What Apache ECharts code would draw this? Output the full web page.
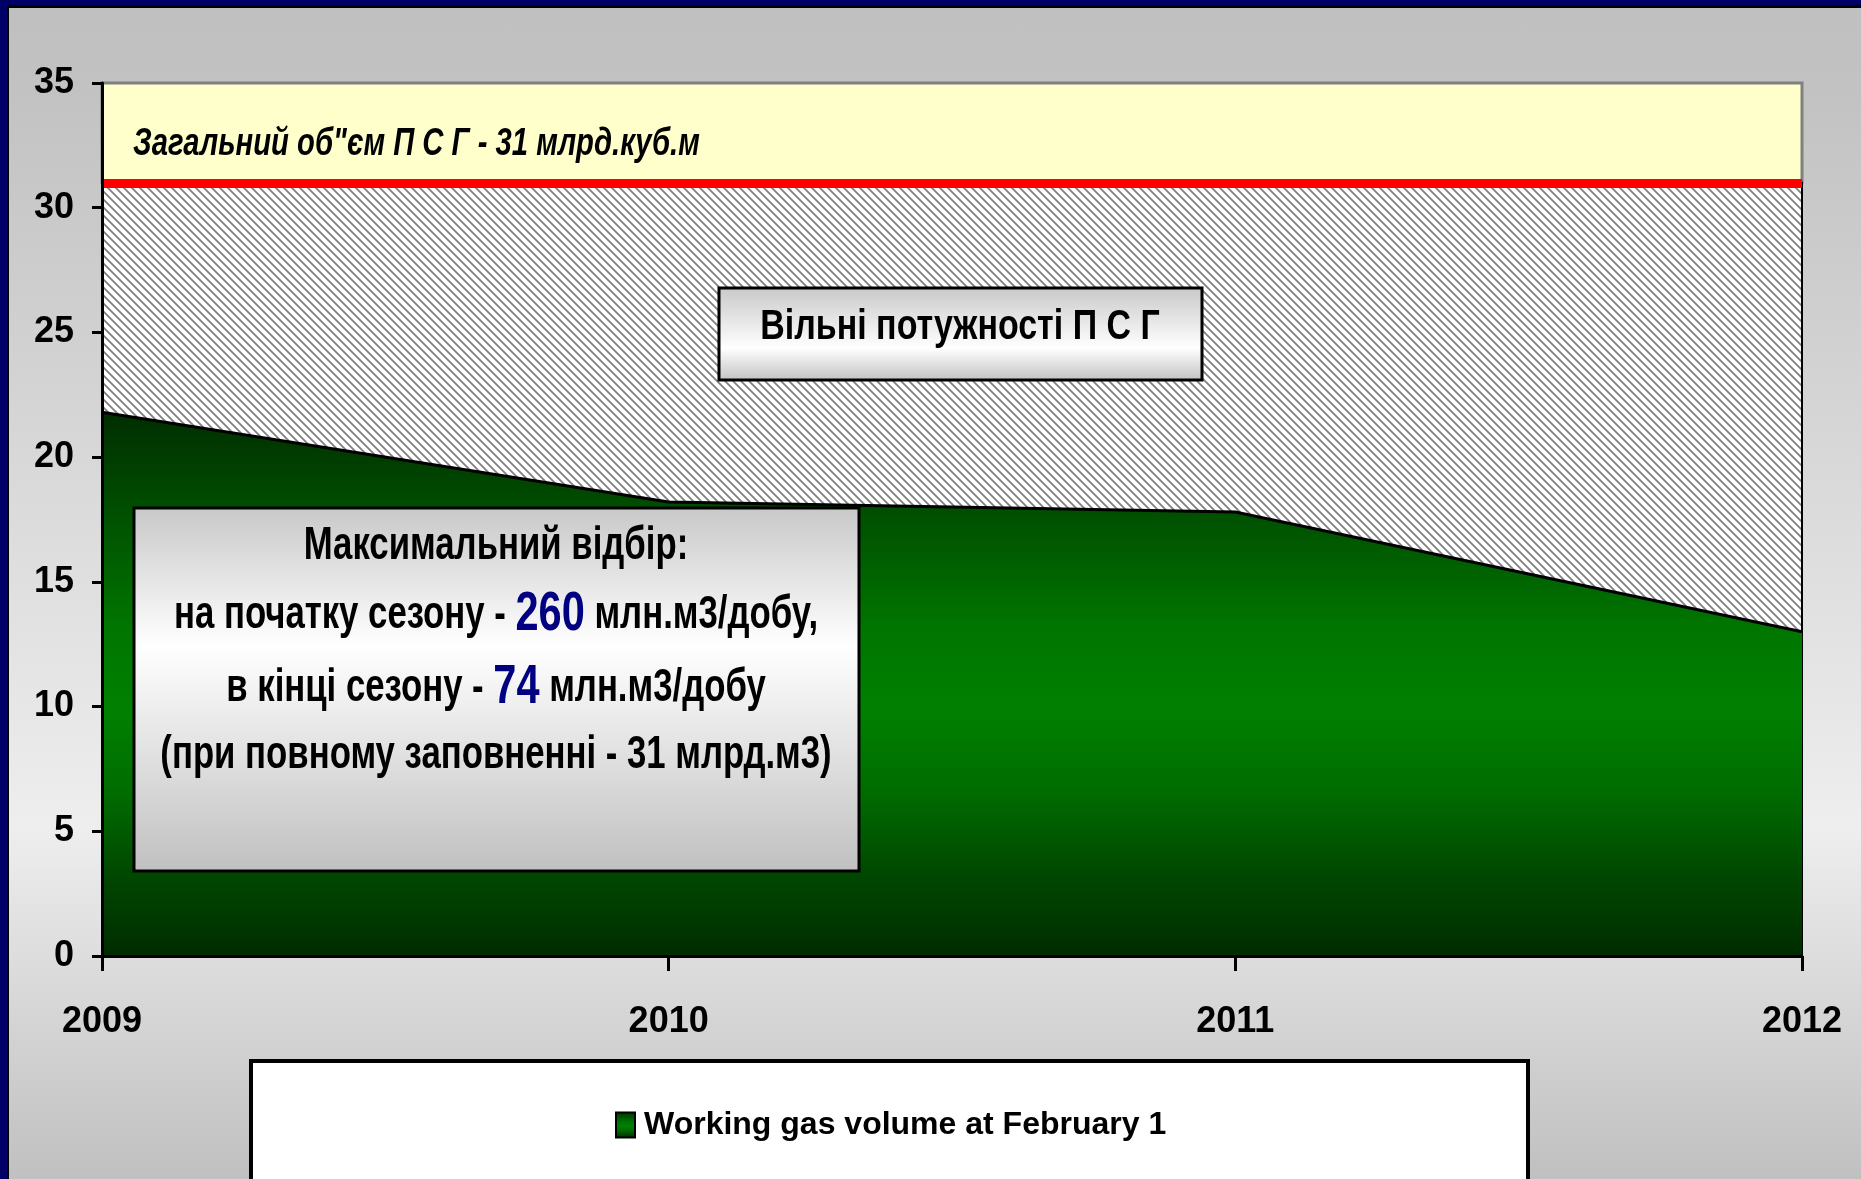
<!DOCTYPE html>
<html>
<head>
<meta charset="utf-8">
<script src="https://cdn.jsdelivr.net/npm/echarts@6/dist/echarts.min.js"></script>
<style>
  html, body { margin: 0; padding: 0; }
  body { width: 1861px; height: 1179px; background: #000066; overflow: hidden; position: relative; }
  .frame {
    position: absolute; left: 7px; top: 5px; right: 0; bottom: 0;
    border-left: 2px solid #000; border-top: 3px solid #000;
    background: linear-gradient(to bottom, #c0c0c0 0%, #c2c2c2 7%, #eeeeee 70%, #c0c0c0 100%);
  }
  #chart { position: absolute; left: 0; top: 0; width: 1861px; height: 1179px; }
</style>
</head>
<body>
<div class="frame"></div>
<div id="chart"></div>
<script>
  var years = ['2009', '2010', '2011', '2012']
  var workingGas = [21.8, 18.2, 17.8, 13.0]   // млрд.м3 на 1 лютого
  var totalVolume = 31
  var yMin = 0, yMax = 35, yStep = 5

  var seriesName = 'Working gas volume at February 1'
  var font = "'Liberation Sans', Arial, sans-serif"

  // штрихування "вільні потужності"
  function hatch () {
    var c = document.createElement('canvas')
    c.width = 8; c.height = 8
    var g = c.getContext('2d')
    g.fillStyle = '#ffffff'
    g.fillRect(0, 0, 8, 8)
    g.strokeStyle = '#808080'
    g.lineWidth = 1.8
    g.beginPath()
    g.moveTo(-2, -2); g.lineTo(10, 10)
    g.moveTo(-2, 6); g.lineTo(2, 10)
    g.moveTo(6, -2); g.lineTo(10, 2)
    g.stroke()
    return c
  }

  var greenFill = new echarts.graphic.LinearGradient(0, 0, 0, 1, [
    { offset: 0, color: '#002e00' },
    { offset: 0.2, color: '#005200' },
    { offset: 0.4, color: '#007600' },
    { offset: 0.55, color: '#008000' },
    { offset: 0.7, color: '#006c00' },
    { offset: 0.85, color: '#004800' },
    { offset: 1, color: '#002c00' }
  ])

  var boxFill = function (mid) {
    return new echarts.graphic.LinearGradient(0, 0, 0, 1, [
      { offset: 0, color: '#c8c8c8' },
      { offset: mid, color: '#ffffff' },
      { offset: 1, color: '#c0c0c0' }
    ])
  }

  var txt = function (size, color) {
    return { fontFamily: font, fontWeight: 'bold', fontSize: size, fill: color || '#000' }
  }

  // текстовий рядок, стиснутий по горизонталі (Arial Narrow в оригіналі)
  var line = function (x, y, sx, style) {
    return {
      type: 'text', z: 21, x: x, y: y, scaleX: sx,
      style: Object.assign({ x: 0, y: 0, align: 'center', verticalAlign: 'middle' }, style)
    }
  }

  var chart = echarts.init(document.getElementById('chart'))
  var option = {
    animation: false,
    backgroundColor: 'transparent',
    grid: { left: 102, right: 59, top: 83, bottom: 223, containLabel: false },
    legend: {
      left: 615,
      top: 1109,
      padding: 0,
      itemWidth: 19,
      itemHeight: 25,
      data: [{
        name: seriesName,
        icon: 'rect',
        itemStyle: { color: greenFill, borderColor: '#000', borderWidth: 2 }
      }],
      textStyle: { fontFamily: font, fontWeight: 'bold', fontSize: 32, color: '#000', padding: [0, 0, 0, 4] }
    },
    xAxis: {
      type: 'category',
      data: years,
      boundaryGap: false,
      z: 10,
      axisLine: { lineStyle: { color: '#000', width: 3 } },
      axisTick: { length: 15, lineStyle: { color: '#000', width: 3 } },
      axisLabel: { margin: 48, color: '#000', fontFamily: font, fontWeight: 'bold', fontSize: 36 },
      splitLine: { show: false }
    },
    yAxis: {
      type: 'value',
      min: yMin,
      max: yMax,
      interval: yStep,
      z: 10,
      axisLine: { show: true, lineStyle: { color: '#000', width: 3 } },
      axisTick: { show: true, length: 10, lineStyle: { color: '#000', width: 3 } },
      axisLabel: { margin: 28, color: '#000', fontFamily: font, fontWeight: 'bold', fontSize: 36 },
      splitLine: { show: false }
    },
    series: [{
      name: seriesName,
      type: 'line',
      data: workingGas,
      symbol: 'none',
      silent: true,
      itemStyle: { color: '#008000' },
      lineStyle: { color: '#000', width: 3 },
      areaStyle: { color: greenFill, opacity: 1 },
      markArea: {
        silent: true,
        data: [
          [{ yAxis: totalVolume, itemStyle: { color: '#ffffcc', borderColor: '#808080', borderWidth: 3 } }, { yAxis: yMax }],
          [{ yAxis: yMin, itemStyle: { color: { image: hatch(), repeat: 'repeat' }, borderColor: '#000', borderWidth: 2 } }, { yAxis: totalVolume }]
        ]
      },
      markLine: {
        silent: true,
        symbol: 'none',
        label: { show: false },
        lineStyle: { color: '#ff0000', width: 9, type: 'solid' },
        data: [{ yAxis: totalVolume }]
      }
    }],
    graphic: [
      {
        type: 'rect', z: 1,
        shape: { x: 251, y: 1061, width: 1277, height: 200 },
        style: { fill: '#ffffff', stroke: '#000', lineWidth: 4 }
      },
      {
        type: 'text', z: 20, x: 133, y: 145, scaleX: 0.77,
        style: {
          x: 0, y: 0, text: 'Загальний об"єм П С Г - 31 млрд.куб.м',
          fontFamily: font, fontWeight: 'bold', fontStyle: 'italic', fontSize: 38,
          fill: '#000', verticalAlign: 'middle'
        }
      },
      {
        type: 'rect', z: 20,
        shape: { x: 719, y: 288, width: 483, height: 92 },
        style: { fill: boxFill(0.65), stroke: '#000', lineWidth: 3 }
      },
      line(960, 327, 0.79, Object.assign(txt(43), { text: 'Вільні потужності П С Г' })),
      {
        type: 'rect', z: 20,
        shape: { x: 134, y: 508, width: 725, height: 363 },
        style: { fill: boxFill(0.38), stroke: '#000', lineWidth: 3 }
      },
      line(496, 546, 0.755, Object.assign(txt(46), { text: 'Максимальний відбір:' })),
      line(496, 615, 0.755, {
        text: '{t|на початку сезону - }{n|260}{t| млн.м3/добу,}',
        rich: { t: txt(46), n: txt(55, '#000080') }
      }),
      line(496, 688, 0.755, {
        text: '{t|в кінці сезону - }{n|74}{t| млн.м3/добу}',
        rich: { t: txt(46), n: txt(55, '#000080') }
      }),
      line(496, 755, 0.755, Object.assign(txt(46), { text: '(при повному заповненні - 31 млрд.м3)' }))
    ]
  }
  chart.setOption(option)
</script>
</body>
</html>
